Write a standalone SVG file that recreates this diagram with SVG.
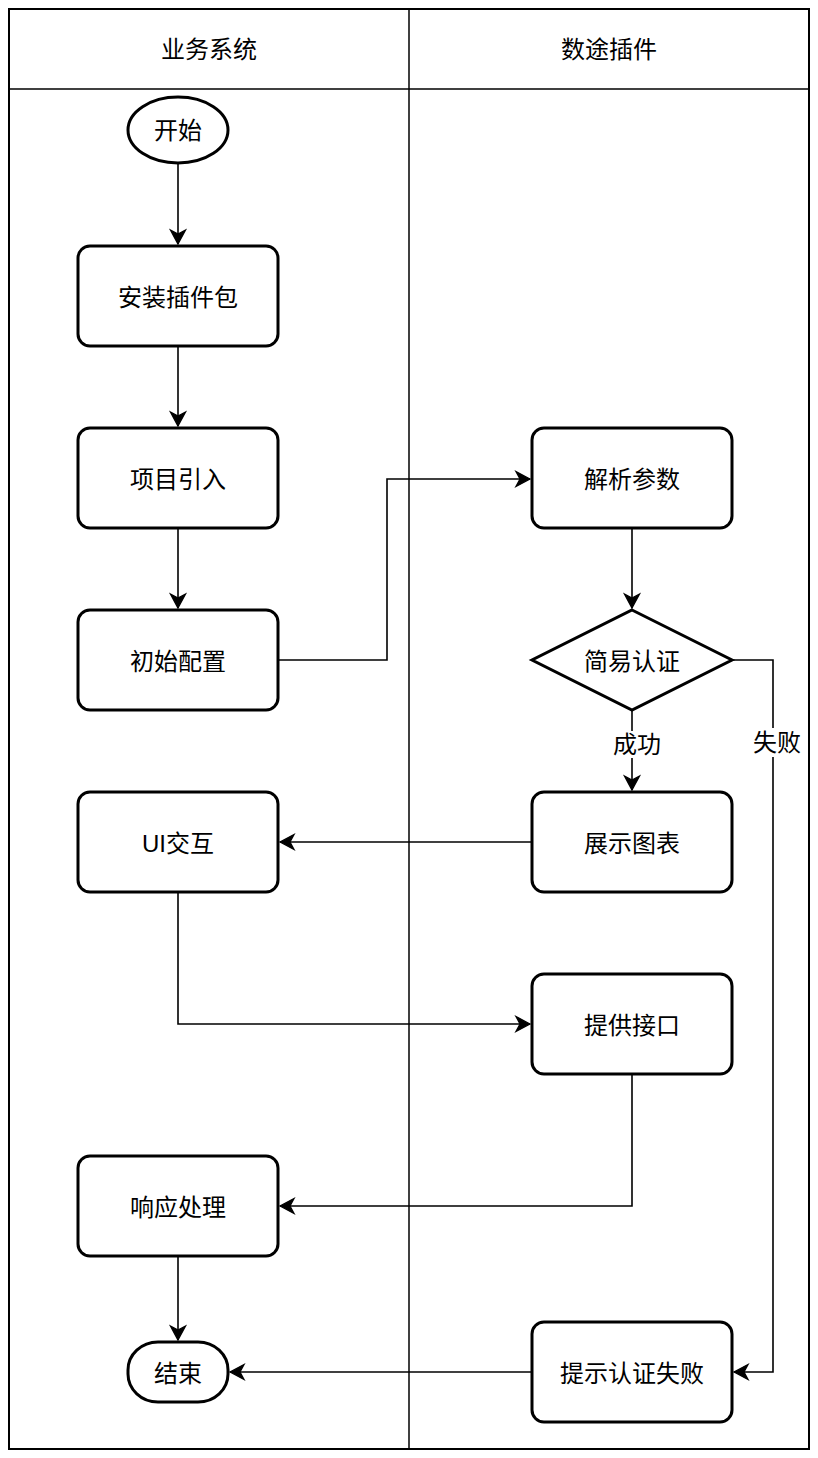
<svg xmlns="http://www.w3.org/2000/svg" width="818" height="1458" viewBox="0 0 818 1458">
<style>
text{font-family:"Liberation Sans","Noto Sans CJK SC",sans-serif;font-size:24px;fill:#000;text-anchor:middle;dominant-baseline:central}
.node{fill:#fff;stroke:#000;stroke-width:3}
.lane{fill:none;stroke:#000;stroke-width:1.5}
.edge{fill:none;stroke:#000;stroke-width:1.6}
.lbl{fill:#fff;stroke:none}
</style>
<defs>
<marker id="arr" markerUnits="userSpaceOnUse" markerWidth="20" markerHeight="20" viewBox="-16 -10 20 20" refX="0" refY="0" orient="auto">
<path d="M0,0 L-14,-7.5 L-10,0 L-14,7.5 Z" fill="#000" stroke="#000" stroke-width="1.3"/>
</marker>
</defs>
<rect width="818" height="1458" fill="#fff"/>
<g id="pool">
<rect x="9" y="9" width="800" height="1440" fill="none" stroke="#000" stroke-width="2"/>
<line x1="9" y1="89" x2="809" y2="89" class="lane"/>
<line x1="409" y1="9" x2="409" y2="1449" class="lane"/>
<text x="209" y="49">业务系统</text>
<text x="609" y="49">数途插件</text>
</g>
<g id="connectors">
<path class="edge" d="M178,164 V244" marker-end="url(#arr)"/>
<path class="edge" d="M178,346 V426" marker-end="url(#arr)"/>
<path class="edge" d="M178,528 V608" marker-end="url(#arr)"/>
<path class="edge" d="M278,660 H387 V479 H530" marker-end="url(#arr)"/>
<path class="edge" d="M632,528 V608" marker-end="url(#arr)"/>
<path class="edge" d="M632,710 V790" marker-end="url(#arr)"/>
<rect class="lbl" x="612" y="731" width="50" height="27"/>
<text x="637" y="744">成功</text>
<path class="edge" d="M732,660 H773 V1372 H734" marker-end="url(#arr)"/>
<rect class="lbl" x="752" y="728" width="50" height="29"/>
<text x="777" y="742">失败</text>
<path class="edge" d="M532,842 H280" marker-end="url(#arr)"/>
<path class="edge" d="M178,892 V1024 H530" marker-end="url(#arr)"/>
<path class="edge" d="M632,1074 V1206 H280" marker-end="url(#arr)"/>
<path class="edge" d="M178,1256 V1340" marker-end="url(#arr)"/>
<path class="edge" d="M532,1372 H230" marker-end="url(#arr)"/>
</g>
<g id="start"><ellipse class="node" cx="178" cy="130" rx="50" ry="33"/><text x="178" y="130">开始</text></g>
<g id="install"><rect class="node" x="78" y="246" width="200" height="100" rx="12"/><text x="178" y="297">安装插件包</text></g>
<g id="import"><rect class="node" x="78" y="428" width="200" height="100" rx="12"/><text x="178" y="479">项目引入</text></g>
<g id="config"><rect class="node" x="78" y="610" width="200" height="100" rx="12"/><text x="178" y="661">初始配置</text></g>
<g id="ui"><rect class="node" x="78" y="792" width="200" height="100" rx="12"/><text x="178" y="843">UI交互</text></g>
<g id="response"><rect class="node" x="78" y="1156" width="200" height="100" rx="12"/><text x="178" y="1207">响应处理</text></g>
<g id="end"><rect class="node" x="128" y="1342" width="100" height="60" rx="30" ry="28"/><text x="178" y="1373">结束</text></g>
<g id="parse"><rect class="node" x="532" y="428" width="200" height="100" rx="12"/><text x="632" y="479">解析参数</text></g>
<g id="auth"><polygon class="node" points="632,610 732,660 632,710 532,660"/><text x="632" y="661">简易认证</text></g>
<g id="chart"><rect class="node" x="532" y="792" width="200" height="100" rx="12"/><text x="632" y="843">展示图表</text></g>
<g id="api"><rect class="node" x="532" y="974" width="200" height="100" rx="12"/><text x="632" y="1025">提供接口</text></g>
<g id="fail"><rect class="node" x="532" y="1322" width="200" height="100" rx="12"/><text x="632" y="1373">提示认证失败</text></g>
</svg>
